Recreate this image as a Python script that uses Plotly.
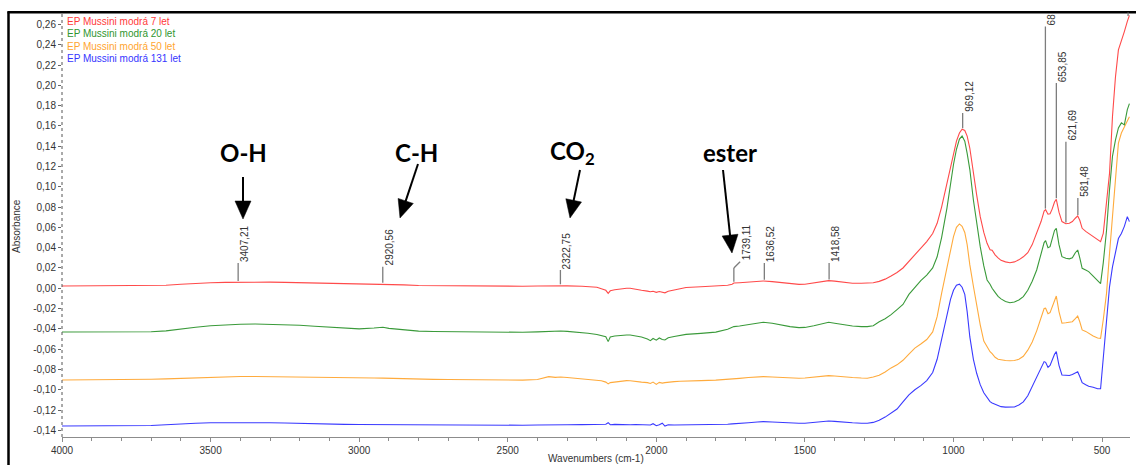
import plotly.graph_objects as go
import numpy as np

# ---------------- DATA ----------------
wavenumbers = [
    4000, 3900, 3800, 3700, 3650, 3600, 3550, 3500, 3450, 3400,
    3350, 3300, 3250, 3200, 3150, 3100, 3050, 3000, 2950, 2920,
    2900, 2850, 2800, 2750, 2700, 2650, 2600, 2550, 2500, 2450,
    2400, 2362, 2340, 2322, 2300, 2250, 2230, 2200, 2185, 2170,
    2162, 2155, 2140, 2120, 2100, 2088, 2070, 2050, 2030, 2020,
    2011, 2000, 1990, 1980, 1971, 1960, 1940, 1920, 1900, 1850,
    1800, 1760, 1745, 1739, 1720, 1690, 1660, 1640, 1610, 1580,
    1550, 1520, 1500, 1470, 1440, 1420, 1400, 1370, 1340, 1310,
    1290, 1270, 1250, 1230, 1210, 1190, 1170, 1150, 1130, 1110,
    1090, 1070, 1055, 1040, 1022, 1010, 1000, 990, 980, 971,
    962, 954, 945, 933, 922, 910, 898, 887, 877, 870,
    860, 850, 840, 825, 810, 795, 780, 765, 750, 735,
    720, 705, 695, 690, 682, 675, 668, 660, 654, 645,
    635, 622, 610, 600, 590, 582, 575, 567, 555, 545,
    530, 515, 505, 496, 485, 475, 465, 455, 445, 435,
    425, 415, 408,
]

absorbance_7_let = [
    0.0023, 0.0023, 0.0025, 0.0027, 0.0030, 0.0040, 0.0050, 0.0055, 0.0058, 0.0060,
    0.0060, 0.0060, 0.0058, 0.0055, 0.0050, 0.0046, 0.0045, 0.0044, 0.0043, 0.0042,
    0.0040, 0.0033, 0.0027, 0.0025, 0.0024, 0.0023, 0.0022, 0.0020, 0.0021, 0.0020,
    0.0022, 0.0024, 0.0025, 0.0027, 0.0024, 0.0020, 0.0015, 0.0010, -0.0005, -0.0020,
    -0.0050, -0.0025, -0.0015, -0.0005, 0.0000, 0.0000, -0.0012, -0.0020, -0.0028, -0.0035,
    -0.0030, -0.0040, -0.0032, -0.0038, -0.0045, -0.0030, -0.0015, 0.0000, 0.0008, 0.0015,
    0.0022, 0.0030, 0.0040, 0.0052, 0.0055, 0.0060, 0.0068, 0.0072, 0.0065, 0.0055,
    0.0042, 0.0038, 0.0040, 0.0052, 0.0068, 0.0075, 0.0070, 0.0058, 0.0050, 0.0050,
    0.0051, 0.0055, 0.0068, 0.0090, 0.0120, 0.0155, 0.0200, 0.0265, 0.0330, 0.0400,
    0.0460, 0.0540, 0.0640, 0.0800, 0.1030, 0.1200, 0.1330, 0.1450, 0.1530, 0.1567,
    0.1555, 0.1500, 0.1380, 0.1130, 0.0920, 0.0706, 0.0550, 0.0443, 0.0380, 0.0375,
    0.0330, 0.0300, 0.0275, 0.0260, 0.0252, 0.0260, 0.0280, 0.0310, 0.0350, 0.0430,
    0.0540, 0.0660, 0.0760, 0.0775, 0.0730, 0.0735, 0.0780, 0.0850, 0.0877, 0.0750,
    0.0657, 0.0636, 0.0640, 0.0657, 0.0690, 0.0713, 0.0670, 0.0591, 0.0560, 0.0540,
    0.0510, 0.0475, 0.0460, 0.0540, 0.0840, 0.1130, 0.1690, 0.2080, 0.2350, 0.2430,
    0.2530, 0.2630, 0.2690,
]

absorbance_20_let = [
    -0.0431, -0.0432, -0.0430, -0.0428, -0.0420, -0.0400, -0.0385, -0.0370, -0.0360, -0.0354,
    -0.0352, -0.0354, -0.0358, -0.0365, -0.0375, -0.0385, -0.0395, -0.0400, -0.0392, -0.0385,
    -0.0395, -0.0412, -0.0422, -0.0426, -0.0428, -0.0430, -0.0432, -0.0433, -0.0434, -0.0434,
    -0.0430, -0.0425, -0.0422, -0.0421, -0.0425, -0.0435, -0.0444, -0.0455, -0.0465, -0.0478,
    -0.0526, -0.0480, -0.0470, -0.0462, -0.0460, -0.0460, -0.0470, -0.0480, -0.0500, -0.0516,
    -0.0495, -0.0512, -0.0490, -0.0505, -0.0510, -0.0488, -0.0475, -0.0462, -0.0455, -0.0445,
    -0.0432, -0.0405, -0.0385, -0.0378, -0.0372, -0.0360, -0.0342, -0.0335, -0.0345, -0.0365,
    -0.0378, -0.0388, -0.0386, -0.0370, -0.0345, -0.0335, -0.0345, -0.0362, -0.0372, -0.0378,
    -0.0378, -0.0370, -0.0330, -0.0300, -0.0260, -0.0210, -0.0160, -0.0060, 0.0010, 0.0075,
    0.0130, 0.0200, 0.0310, 0.0500, 0.0790, 0.1050, 0.1220, 0.1370, 0.1470, 0.1500,
    0.1450, 0.1330, 0.1170, 0.0870, 0.0630, 0.0410, 0.0220, 0.0082, 0.0040, 0.0000,
    -0.0040, -0.0080, -0.0105, -0.0130, -0.0142, -0.0135, -0.0115, -0.0083, -0.0020, 0.0070,
    0.0180, 0.0330, 0.0450, 0.0469, 0.0400, 0.0410, 0.0500, 0.0570, 0.0591, 0.0430,
    0.0311, 0.0295, 0.0290, 0.0300, 0.0350, 0.0377, 0.0300, 0.0197, 0.0180, 0.0164,
    0.0120, 0.0070, 0.0045, 0.0250, 0.0570, 0.0970, 0.1300, 0.1460, 0.1580, 0.1630,
    0.1610, 0.1760, 0.1820,
]

absorbance_50_let = [
    -0.0904, -0.0903, -0.0900, -0.0897, -0.0893, -0.0888, -0.0880, -0.0873, -0.0871, -0.0870,
    -0.0870, -0.0871, -0.0874, -0.0878, -0.0880, -0.0882, -0.0883, -0.0884, -0.0885, -0.0886,
    -0.0888, -0.0895, -0.0897, -0.0898, -0.0900, -0.0902, -0.0902, -0.0903, -0.0904, -0.0905,
    -0.0900, -0.0871, -0.0878, -0.0875, -0.0880, -0.0895, -0.0900, -0.0905, -0.0912, -0.0925,
    -0.0943, -0.0930, -0.0925, -0.0915, -0.0910, -0.0912, -0.0920, -0.0925, -0.0930, -0.0938,
    -0.0925, -0.0947, -0.0928, -0.0935, -0.0930, -0.0925, -0.0920, -0.0917, -0.0913, -0.0910,
    -0.0905, -0.0900, -0.0895, -0.0893, -0.0888, -0.0880, -0.0873, -0.0871, -0.0875, -0.0880,
    -0.0885, -0.0887, -0.0885, -0.0875, -0.0865, -0.0861, -0.0865, -0.0875, -0.0880, -0.0885,
    -0.0887, -0.0875, -0.0858, -0.0825, -0.0785, -0.0755, -0.0710, -0.0650, -0.0590, -0.0550,
    -0.0505, -0.0430, -0.0280, -0.0050, 0.0210, 0.0370, 0.0510, 0.0600, 0.0634, 0.0610,
    0.0550, 0.0430, 0.0230, 0.0020, -0.0180, -0.0360, -0.0520, -0.0580, -0.0625, -0.0645,
    -0.0680, -0.0700, -0.0707, -0.0712, -0.0714, -0.0712, -0.0700, -0.0670, -0.0610, -0.0530,
    -0.0420, -0.0300, -0.0200, -0.0197, -0.0250, -0.0240, -0.0180, -0.0110, -0.0076, -0.0230,
    -0.0345, -0.0340, -0.0335, -0.0330, -0.0300, -0.0273, -0.0330, -0.0411, -0.0425, -0.0445,
    -0.0470, -0.0490, -0.0493, -0.0310, -0.0050, 0.0340, 0.0710, 0.1130, 0.1430, 0.1530,
    0.1590, 0.1660, 0.1690,
]

absorbance_131_let = [
    -0.1357, -0.1356, -0.1355, -0.1353, -0.1345, -0.1335, -0.1330, -0.1326, -0.1324, -0.1324,
    -0.1324, -0.1325, -0.1328, -0.1333, -0.1338, -0.1340, -0.1342, -0.1343, -0.1344, -0.1344,
    -0.1345, -0.1348, -0.1350, -0.1350, -0.1350, -0.1348, -0.1350, -0.1350, -0.1350, -0.1350,
    -0.1348, -0.1345, -0.1342, -0.1345, -0.1345, -0.1344, -0.1342, -0.1345, -0.1342, -0.1340,
    -0.1325, -0.1345, -0.1342, -0.1345, -0.1346, -0.1345, -0.1343, -0.1345, -0.1340, -0.1348,
    -0.1335, -0.1355, -0.1345, -0.1330, -0.1358, -0.1345, -0.1347, -0.1347, -0.1347, -0.1346,
    -0.1345, -0.1340, -0.1337, -0.1335, -0.1330, -0.1325, -0.1318, -0.1314, -0.1318, -0.1324,
    -0.1328, -0.1331, -0.1330, -0.1322, -0.1312, -0.1308, -0.1312, -0.1322, -0.1326, -0.1330,
    -0.1331, -0.1322, -0.1300, -0.1270, -0.1230, -0.1190, -0.1120, -0.1050, -0.1000, -0.0960,
    -0.0910, -0.0830, -0.0700, -0.0500, -0.0250, -0.0110, -0.0020, 0.0030, 0.0040, 0.0010,
    -0.0060, -0.0230, -0.0480, -0.0700, -0.0838, -0.0950, -0.1030, -0.1080, -0.1118, -0.1130,
    -0.1145, -0.1160, -0.1167, -0.1172, -0.1173, -0.1170, -0.1150, -0.1120, -0.1060, -0.0970,
    -0.0870, -0.0780, -0.0723, -0.0730, -0.0779, -0.0760, -0.0700, -0.0650, -0.0625, -0.0760,
    -0.0855, -0.0860, -0.0860, -0.0850, -0.0830, -0.0822, -0.0870, -0.0930, -0.0950, -0.0965,
    -0.0975, -0.0990, -0.0990, -0.0707, -0.0310, 0.0013, 0.0210, 0.0350, 0.0490, 0.0540,
    0.0610, 0.0706, 0.0657,
]

series_names = [
    "EP Mussini modrá 7 let",
    "EP Mussini modrá 20 let",
    "EP Mussini modrá 50 let",
    "EP Mussini modrá 131 let",
]

# peak markers on the 7-let spectrum
peak_wavenumbers = [3407.21, 2920.56, 2322.75, 1739.11, 1636.52, 1418.58,
                    969.12, 690.68, 653.85, 621.69, 581.48]
peak_labels = ["3407,21", "2920,56", "2322,75", "1739,11", "1636,52", "1418,58",
               "969,12", "68", "653,85", "621,69", "581,48"]

band_labels = ["O-H", "C-H", "CO<sub>2</sub>", "ester"]

x_tick_values = [4000, 3500, 3000, 2500, 2000, 1500, 1000, 500]
x_tick_labels = ["4000", "3500", "3000", "2500", "2000", "1500", "1000", "500"]
y_tick_values = [-0.14, -0.12, -0.10, -0.08, -0.06, -0.04, -0.02, 0.00, 0.02, 0.04,
                 0.06, 0.08, 0.10, 0.12, 0.14, 0.16, 0.18, 0.20, 0.22, 0.24, 0.26]
y_tick_labels = ["-0,14", "-0,12", "-0,10", "-0,08", "-0,06", "-0,04", "-0,02", "0,00",
                 "0,02", "0,04", "0,06", "0,08", "0,10", "0,12", "0,14", "0,16", "0,18",
                 "0,20", "0,22", "0,24", "0,26"]

x_title = "Wavenumbers (cm-1)"
y_title = "Absorbance"

for s in (absorbance_7_let, absorbance_20_let, absorbance_50_let, absorbance_131_let):
    assert len(s) == len(wavenumbers), (len(s), len(wavenumbers))

# ---------------- STYLE / LAYOUT ----------------
W, H = 1136, 465
ML, MR, MT, MB = 62, 6, 13, 28
PW, PH = W - ML - MR, H - MT - MB
X_RANGE = [4000, 406]
Y_RANGE = [-0.1466, 0.2713]

series_colors = ["#ff4a4a", "#3a9a3a", "#ffab3d", "#3a3aff"]
legend_colors = ["#ff3a3a", "#2f962f", "#ffa530", "#3535ff"]
FONT = "Liberation Sans, Arial, sans-serif"
TXT = "#333333"


def pxx(px):
    return (px - ML) / PW


def pxy(py):
    return (H - MB - py) / PH


fig = go.Figure()

series = [absorbance_7_let, absorbance_20_let, absorbance_50_let, absorbance_131_let]
for i in [3, 2, 1, 0]:
    fig.add_trace(go.Scatter(
        x=wavenumbers, y=series[i], mode="lines", name=series_names[i],
        line=dict(color=series_colors[i], width=1.1), hoverinfo="skip",
    ))

shapes = []
annotations = []

# y axis dotted line
shapes.append(dict(type="line", xref="paper", yref="paper", x0=0, x1=0, y0=0, y1=1,
                   line=dict(color="#555555", width=1, dash="dot")))

# outer frame (screenshot border)
shapes.append(dict(type="line", xref="paper", yref="paper",
                   x0=pxx(8.5), x1=pxx(8.5), y0=pxy(466), y1=pxy(11.5),
                   line=dict(color="black", width=2.5)))
shapes.append(dict(type="line", xref="paper", yref="paper",
                   x0=pxx(7.5), x1=pxx(1137), y0=pxy(12.3), y1=pxy(12.3),
                   line=dict(color="black", width=2.5)))

# peak leader lines + labels
label_tops = [0.025, 0.0213, 0.018, 0.020, 0.025, 0.025, 0.1727, 0.258, 0.2024, 0.1445, 0.089]
red_rev_x = wavenumbers[::-1]
red_rev_y = absorbance_7_let[::-1]
LINE_C = "#7d7d7d"
for wn, lab, top in zip(peak_wavenumbers, peak_labels, label_tops):
    base = float(np.interp(wn, red_rev_x, red_rev_y)) + 0.0012
    shapes.append(dict(type="line", xref="x", yref="y", x0=wn, x1=wn, y0=base, y1=top,
                       line=dict(color=LINE_C, width=1.3)))
    tx, ty = wn, top
    if lab == "1739,11":
        shapes.append(dict(type="line", xref="x", yref="y", x0=wn, x1=1718, y0=top, y1=0.0262,
                           line=dict(color=LINE_C, width=1.3)))
        tx, ty = 1718, 0.0262
    annotations.append(dict(x=tx, y=ty, xref="x", yref="y", text=lab, showarrow=False,
                            textangle=-90, xanchor="left", yanchor="bottom", xshift=0,
                            borderpad=0, font=dict(family=FONT, size=10, color=TXT)))

# small marker line at the top right
shapes.append(dict(type="line", xref="x", yref="paper", x0=412.5, x1=412.5,
                   y0=pxy(16), y1=pxy(12.5), line=dict(color=LINE_C, width=1.3)))

# legend texts
legend_y = [21, 33.5, 46, 58.5]
for name, col, ly in zip(series_names, legend_colors, legend_y):
    annotations.append(dict(x=pxx(65), y=pxy(ly), xref="paper", yref="paper", text=name,
                            showarrow=False, xanchor="left", yanchor="middle",
                            font=dict(family=FONT, size=10, color=col)))

# band labels (pixel positions of text centres)
band_text_px = [(243, 152), (416, 152), (572, 152), (730, 152)]
for lab, (bx, by) in zip(band_labels, band_text_px):
    annotations.append(dict(x=pxx(bx), y=pxy(by), xref="paper", yref="paper",
                            text="<b>" + lab + "</b>", showarrow=False,
                            xanchor="center", yanchor="middle",
                            font=dict(family="Lato, Open Sans, sans-serif", size=24,
                                      color="black")))

# arrows drawn as shapes: (tail_x, tail_y, tip_x, tip_y) in pixels
arrow_px = [(243, 177, 243, 219), (418, 164, 400, 218),
            (580, 170, 570, 218), (723, 170, 732, 253)]
HEAD_LEN, HEAD_HALF = 18.0, 8.0
for (x0, y0, x1, y1) in arrow_px:
    dx, dy = x1 - x0, y1 - y0
    L = (dx * dx + dy * dy) ** 0.5
    ux, uy = dx / L, dy / L
    nx, ny = -uy, ux
    bx, by = x1 - HEAD_LEN * ux, y1 - HEAD_LEN * uy
    shapes.append(dict(type="line", xref="paper", yref="paper",
                       x0=pxx(x0), y0=pxy(y0), x1=pxx(bx + ux), y1=pxy(by + uy),
                       line=dict(color="black", width=2)))
    c1 = (bx + HEAD_HALF * nx, by + HEAD_HALF * ny)
    c2 = (bx - HEAD_HALF * nx, by - HEAD_HALF * ny)
    path = "M {:.5f},{:.5f} L {:.5f},{:.5f} L {:.5f},{:.5f} Z".format(
        pxx(x1), pxy(y1), pxx(c1[0]), pxy(c1[1]), pxx(c2[0]), pxy(c2[1]))
    shapes.append(dict(type="path", xref="paper", yref="paper", path=path,
                       fillcolor="black", line=dict(color="black", width=0.5)))

# axis titles (placed as annotations so the plot area keeps its exact size)
annotations.append(dict(x=pxx(16), y=pxy(226), xref="paper", yref="paper", text=y_title,
                        textangle=-90, showarrow=False, xanchor="center", yanchor="middle",
                        font=dict(family=FONT, size=10, color=TXT)))
annotations.append(dict(x=pxx(596), y=pxy(458.5), xref="paper", yref="paper",
                        text=x_title, showarrow=False, xanchor="center",
                        yanchor="middle", borderpad=0,
                        font=dict(family=FONT, size=10, color=TXT)))

fig.update_layout(
    width=W, height=H,
    margin=dict(l=ML, r=MR, t=MT, b=MB, pad=0),
    paper_bgcolor="white", plot_bgcolor="white",
    showlegend=False,
    shapes=shapes, annotations=annotations,
    xaxis=dict(range=X_RANGE, showgrid=False, zeroline=False, showline=True,
               linecolor="#8c8c8c", linewidth=1, ticks="outside", ticklen=4,
               tickcolor="#8c8c8c", tickvals=x_tick_values, ticktext=x_tick_labels,
               tickfont=dict(family=FONT, size=10, color=TXT), automargin=False,
               minor=dict(dtick=100, tick0=0, ticks="outside", ticklen=3,
                          tickcolor="#8c8c8c", showgrid=False)),
    yaxis=dict(range=Y_RANGE, showgrid=False, zeroline=False, showline=False,
               ticks="outside", ticklen=3, tickcolor="#666666", automargin=False,
               tickvals=y_tick_values, ticktext=y_tick_labels,
               tickfont=dict(family=FONT, size=10, color=TXT)),
)

fig.write_html("out.html")
